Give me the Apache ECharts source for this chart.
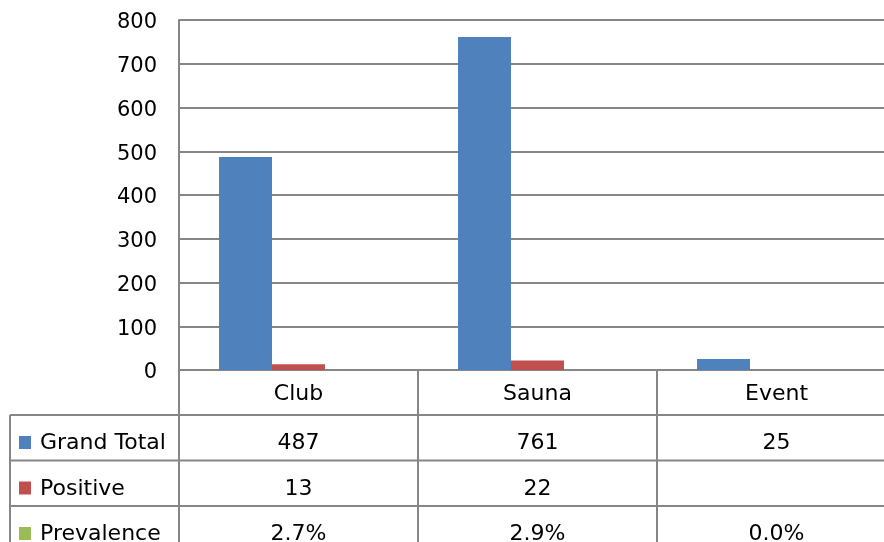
<!DOCTYPE html>
<html>
<head>
<meta charset="utf-8">
<script src="https://cdn.jsdelivr.net/npm/echarts@6/dist/echarts.min.js"></script>
<style>
html, body { margin: 0; padding: 0; background: #fff; }
#main { width: 884px; height: 542px; }
</style>
</head>
<body>
<div id="main"></div>
<script>
// data
var categories = ['Club', 'Sauna', 'Event'];
var grandTotal = [487, 761, 25];
var positive = [13, 22, null];
var prevalence = [0.027, 0.029, 0.0];
var grandTotalText = ['487', '761', '25'];
var positiveText = ['13', '22', ''];
var prevalenceText = ['2.7%', '2.9%', '0.0%'];

var lineColor = '#868686';
var font = 'DejaVu Sans';

var chart = echarts.init(document.getElementById('main'));

var option = {
  animation: false,
  grid: { left: 179, top: 20, right: -12, bottom: 172, outerBoundsMode: 'none' },
  xAxis: {
    type: 'category',
    data: categories,
    axisLine: { lineStyle: { color: lineColor, width: 2 } },
    axisTick: { show: true, length: 190, lineStyle: { color: lineColor, width: 2 } },
    axisLabel: { margin: 13, color: '#000', fontSize: 22, fontFamily: font }
  },
  yAxis: {
    type: 'value',
    min: 0,
    max: 800,
    interval: 100,
    axisLine: { show: true, lineStyle: { color: lineColor, width: 2 } },
    axisTick: { show: false },
    axisLabel: {
      margin: 22, color: '#000', fontSize: 21, fontFamily: font,
      formatter: '{v|{value}}',
      rich: { v: { fontSize: 21, fontFamily: font, color: '#000', padding: [6, 0, 0, 0] } }
    },
    splitLine: { lineStyle: { color: lineColor, width: 2 } }
  },
  series: [
    { name: 'Grand Total', type: 'bar', data: grandTotal, itemStyle: { color: '#4F81BD' }, barGap: '0%', barCategoryGap: '33.5%' },
    { name: 'Positive', type: 'bar', data: positive, itemStyle: { color: '#C0504D' } },
    { name: 'Prevalence', type: 'bar', data: prevalence, itemStyle: { color: '#9BBB59' } }
  ]
};
chart.setOption(option);

// data table under the plot
var rows = [
  { name: 'Grand Total', color: '#4F81BD', cells: grandTotalText },
  { name: 'Positive', color: '#C0504D', cells: positiveText },
  { name: 'Prevalence', color: '#9BBB59', cells: prevalenceText }
];
var rowTop = 415, rowH = 45.5, tableLeft = 10;
var g = [];
g.push({ type: 'line', shape: { x1: tableLeft, y1: rowTop, x2: tableLeft, y2: 560 }, style: { stroke: lineColor, lineWidth: 2 } });
rows.forEach(function (r, i) {
  var y = rowTop + i * rowH;
  g.push({ type: 'line', shape: { x1: tableLeft, y1: y, x2: 884, y2: y }, style: { stroke: lineColor, lineWidth: 2 } });
  g.push({ type: 'rect', shape: { x: 19, y: y + 21, width: 12, height: 13 }, style: { fill: r.color } });
  g.push({ type: 'text', x: 40, y: y + rowH / 2 + 6, style: { text: r.name, fill: '#000', font: '22px ' + font, textVerticalAlign: 'middle' } });
  r.cells.forEach(function (c, j) {
    var cx = chart.convertToPixel({ xAxisIndex: 0 }, j);
    g.push({ type: 'text', x: cx, y: y + rowH / 2 + 6, style: { text: c, fill: '#000', font: '22px ' + font, textAlign: 'center', textVerticalAlign: 'middle' } });
  });
});
chart.setOption({ graphic: g });
</script>
</body>
</html>
